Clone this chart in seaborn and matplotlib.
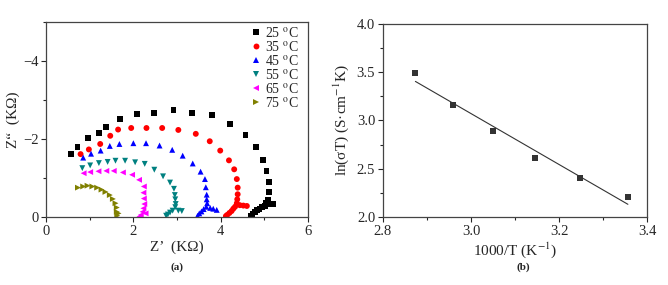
import numpy as np
import pandas as pd
import matplotlib
matplotlib.use("Agg")
import matplotlib.pyplot as plt
from matplotlib.ticker import MultipleLocator
import seaborn as sns

# (a) Nyquist plots, Z' and Z'' in kOhm
temps = ["25", "35", "45", "55", "65", "75"]
z_re_25 = [0.58, 0.72, 0.96, 1.22, 1.38, 1.70, 2.09, 2.47, 2.92, 3.35, 3.80, 4.21, 4.57, 4.81, 4.98, 5.05, 5.10, 5.10, 5.08,
           5.03, 5.21, 5.14, 5.08, 5.02, 4.95, 4.89, 4.83, 4.78, 4.73, 4.70]
z_im_25 = [-1.61, -1.79, -2.03, -2.15, -2.30, -2.51, -2.65, -2.67, -2.74, -2.67, -2.61, -2.38, -2.10, -1.80, -1.47, -1.17, -0.89, -0.64, -0.44,
           -0.36, -0.33, -0.33, -0.32, -0.29, -0.26, -0.21, -0.17, -0.12, -0.08, -0.03]
z_re_35 = [0.79, 0.98, 1.24, 1.47, 1.65, 1.95, 2.30, 2.66, 3.03, 3.43, 3.75, 3.99, 4.19, 4.31, 4.37, 4.39, 4.39, 4.38,
           4.37, 4.44, 4.52, 4.60, 4.33, 4.29, 4.25, 4.20, 4.15, 4.12]
z_im_35 = [-1.61, -1.73, -1.87, -2.08, -2.24, -2.28, -2.28, -2.28, -2.23, -2.13, -1.94, -1.70, -1.45, -1.22, -0.97, -0.75, -0.58, -0.45,
           -0.35, -0.30, -0.29, -0.28, -0.26, -0.21, -0.15, -0.10, -0.05, -0.02]
z_re_45 = [0.85, 1.03, 1.25, 1.46, 1.68, 2.00, 2.29, 2.60, 2.89, 3.13, 3.36, 3.54, 3.64, 3.66, 3.68, 3.68,
           3.69, 3.67, 3.76, 3.83, 3.91, 3.61, 3.56, 3.51, 3.47]
z_im_45 = [-1.52, -1.62, -1.70, -1.82, -1.87, -1.89, -1.89, -1.83, -1.72, -1.57, -1.37, -1.16, -0.97, -0.76, -0.57, -0.45,
           -0.35, -0.26, -0.23, -0.21, -0.18, -0.20, -0.14, -0.09, -0.03]
z_re_55 = [0.83, 1.01, 1.21, 1.41, 1.59, 1.81, 2.04, 2.26, 2.48, 2.68, 2.84, 2.93, 2.95, 2.96, 2.97,
           2.96, 3.03, 3.11, 2.90, 2.84, 2.79, 2.75]
z_im_55 = [-1.25, -1.32, -1.38, -1.41, -1.44, -1.44, -1.40, -1.36, -1.21, -1.04, -0.88, -0.72, -0.56, -0.45, -0.33,
           -0.25, -0.16, -0.15, -0.16, -0.11, -0.06, -0.03]
z_re_65 = [0.86, 1.01, 1.20, 1.38, 1.55, 1.76, 1.97, 2.13, 2.24, 2.23, 2.24, 2.25, 2.23, 2.21, 2.17, 2.14, 2.28]
z_im_65 = [-1.12, -1.15, -1.17, -1.18, -1.18, -1.14, -1.08, -0.95, -0.78, -0.62, -0.47, -0.33, -0.22, -0.13, -0.05, -0.01, -0.09]
z_re_75 = [0.73, 0.85, 0.95, 1.06, 1.17, 1.27, 1.36, 1.46, 1.53, 1.59, 1.62, 1.62, 1.63, 1.66]
z_im_75 = [-0.75, -0.78, -0.80, -0.78, -0.75, -0.70, -0.64, -0.56, -0.46, -0.35, -0.24, -0.13, -0.03, -0.09]

# (b) Arrhenius plot
inv_t = [2.874, 2.959, 3.050, 3.145, 3.247, 3.356]
ln_sigma_t = [3.49, 3.16, 2.89, 2.61, 2.40, 2.21]

colors = ["#000000", "#ff0000", "#0000ff", "#008080", "#ff00ff", "#808000"]
markers = ["s", "o", "^", "v", "<", ">"]

re_list = [z_re_25, z_re_35, z_re_45, z_re_55, z_re_65, z_re_75]
im_list = [z_im_25, z_im_35, z_im_45, z_im_55, z_im_65, z_im_75]
labels = [t + r" $^{\mathrm{o}}$C" for t in temps]
rows = []
for lab, xs, ys in zip(labels, re_list, im_list):
    for x, y in zip(xs, ys):
        rows.append({"Z_re": x, "Z_im": y, "T": lab})
df = pd.DataFrame(rows)

sns.set_style("ticks")
plt.rcParams["font.family"] = ["Liberation Serif", "DejaVu Serif"]
plt.rcParams["mathtext.fontset"] = "stix"
plt.rcParams["axes.edgecolor"] = "#444444"
plt.rcParams["axes.linewidth"] = 0.9

fig = plt.figure(figsize=(6.68, 2.85), dpi=100)
ax1 = fig.add_axes([0.069, 0.239, 0.392, 0.684])
ax2 = fig.add_axes([0.573, 0.239, 0.396, 0.677])

sns.scatterplot(data=df, x="Z_re", y="Z_im", hue="T", style="T", hue_order=labels, style_order=labels,
                palette=dict(zip(labels, colors)), markers=dict(zip(labels, markers)),
                s=18, linewidth=0, ax=ax1)
ax1.set_xlim(0, 6)
ax1.set_ylim(0, -5)
ax1.xaxis.set_major_locator(MultipleLocator(2))
ax1.xaxis.set_minor_locator(MultipleLocator(1))
ax1.yaxis.set_major_locator(MultipleLocator(2))
ax1.yaxis.set_minor_locator(MultipleLocator(1))
ax1.set_xlabel("Z\u2019  (K\u03a9)", fontsize=11, labelpad=2)
ax1.set_ylabel("Z\u201c  (K\u03a9)", fontsize=11, labelpad=2)
leg = ax1.legend(loc="upper right", bbox_to_anchor=(1.0, 1.03), frameon=False, fontsize=10,
                 handletextpad=0.15, labelspacing=0.0, borderpad=0.2, handlelength=1.0)

sns.regplot(x=inv_t, y=ln_sigma_t, ci=None, marker="s", ax=ax2,
            scatter_kws={"s": 16, "color": "black", "linewidths": 0},
            line_kws={"color": "#333333", "lw": 0.8})
ax2.set_xlim(2.8, 3.4)
ax2.set_ylim(2.0, 4.0)
ax2.xaxis.set_major_locator(MultipleLocator(0.2))
ax2.xaxis.set_minor_locator(MultipleLocator(0.1))
ax2.yaxis.set_major_locator(MultipleLocator(0.5))
ax2.yaxis.set_minor_locator(MultipleLocator(0.25))
ax2.set_xlabel("1000/T (K$^{-1}$)", fontsize=11, labelpad=2)
ax2.set_ylabel("ln(\u03c3T) (S\u00b7cm$^{-1}$K)", fontsize=11, labelpad=4)

for ax in (ax1, ax2):
    ax.tick_params(which="major", direction="out", length=3.5, width=0.8, labelsize=10.5, pad=2)
    ax.tick_params(which="minor", direction="out", length=2, width=0.8)
    for s in ax.spines.values():
        s.set_visible(True)

fig.text(0.265, 0.062, "(a)", ha="center", va="center", fontsize=8, fontweight="bold")
fig.text(0.783, 0.062, "(b)", ha="center", va="center", fontsize=8, fontweight="bold")

fig.savefig("out.png", dpi=100)
plt.close(fig)
